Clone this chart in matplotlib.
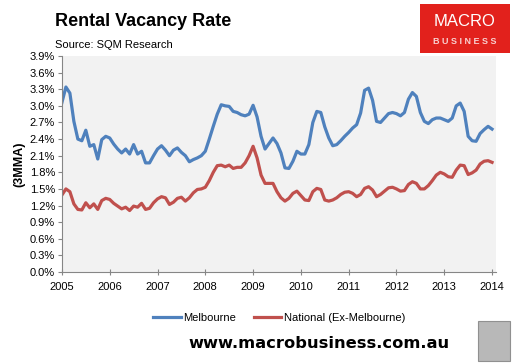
import numpy as np
import matplotlib
matplotlib.use('Agg')
from matplotlib import pyplot as plt
from matplotlib.ticker import FuncFormatter, MultipleLocator
from matplotlib.patches import Rectangle

plt.rcParams.update({'font.family': ['Liberation Sans', 'DejaVu Sans'],
                     'font.size': 8})

# monthly 3MMA vacancy rates, Jan 2005 - Jan 2014
melbourne = [3.06, 3.34, 3.23, 2.72, 2.40, 2.37, 2.56, 2.27, 2.30, 2.04, 2.39, 2.45,
             2.42, 2.31, 2.22, 2.15, 2.22, 2.13, 2.30, 2.13, 2.18, 1.97, 1.97, 2.10,
             2.22, 2.28, 2.20, 2.10, 2.20, 2.24, 2.16, 2.10, 1.99, 2.03, 2.06, 2.10,
             2.18, 2.40, 2.63, 2.85, 3.02, 3.00, 2.99, 2.90, 2.88, 2.84, 2.82, 2.85,
             3.01, 2.80, 2.45, 2.22, 2.32, 2.42, 2.32, 2.15, 1.88, 1.87, 2.00, 2.18,
             2.13, 2.13, 2.30, 2.70, 2.90, 2.88, 2.62, 2.42, 2.28, 2.30, 2.37, 2.45,
             2.52, 2.60, 2.66, 2.87, 3.28, 3.32, 3.10, 2.72, 2.70, 2.78, 2.86, 2.88,
             2.86, 2.82, 2.88, 3.12, 3.24, 3.17, 2.88, 2.72, 2.68, 2.75, 2.78, 2.78,
             2.75, 2.72, 2.78, 3.00, 3.05, 2.90, 2.45, 2.37, 2.36, 2.50, 2.57, 2.63,
             2.58]
national = [1.39, 1.50, 1.45, 1.23, 1.13, 1.12, 1.25, 1.16, 1.23, 1.13, 1.29, 1.33,
            1.31, 1.24, 1.19, 1.14, 1.17, 1.11, 1.19, 1.17, 1.24, 1.13, 1.15, 1.25,
            1.32, 1.36, 1.34, 1.22, 1.26, 1.33, 1.35, 1.28, 1.34, 1.43, 1.49, 1.50,
            1.53, 1.65, 1.80, 1.92, 1.93, 1.90, 1.93, 1.87, 1.89, 1.89, 1.97, 2.10,
            2.27, 2.06, 1.75, 1.60, 1.60, 1.60, 1.45, 1.34, 1.28, 1.33, 1.42, 1.46,
            1.38, 1.30, 1.29, 1.45, 1.51, 1.49, 1.30, 1.28, 1.30, 1.34, 1.40, 1.44,
            1.45, 1.42, 1.36, 1.40, 1.51, 1.54, 1.48, 1.36, 1.40, 1.46, 1.52, 1.53,
            1.50, 1.46, 1.47, 1.58, 1.63, 1.60, 1.50, 1.50, 1.56, 1.65, 1.75, 1.80,
            1.77, 1.72, 1.71, 1.84, 1.93, 1.92, 1.76, 1.79, 1.84, 1.95, 2.00, 2.01,
            1.98]
years = list(range(2005, 2015))
dates = 2005 + np.arange(len(melbourne)) / 12.0

fig = plt.figure(figsize=(5.16, 3.63), dpi=100)
ax = fig.add_axes([0.120, 0.2507, 0.841, 0.595])
ax.set_facecolor('#F2F2F2')

ax.plot(dates, melbourne, color='#4F81BD', linewidth=2.3, label='Melbourne')
ax.plot(dates, national, color='#C0504D', linewidth=2.3, label='National (Ex-Melbourne)')

ax.set_xlim(2005, 2014.08)
ax.set_ylim(0, 3.9)
ax.yaxis.set_major_locator(MultipleLocator(0.3))
ax.yaxis.set_major_formatter(FuncFormatter(lambda v, p: f'{v:.1f}%'))
ax.set_xticks(years)
ax.set_xticklabels([str(y) for y in years])
for s in ['top', 'right']:
    ax.spines[s].set_visible(False)
for s in ['left', 'bottom']:
    ax.spines[s].set_color('#868686')
    ax.spines[s].set_linewidth(0.8)
ax.tick_params(axis='y', direction='out', length=3, color='#868686', labelsize=8, pad=2)
ax.tick_params(axis='x', direction='inout', length=5, color='#868686', labelsize=8, pad=5)
ax.set_ylabel('(3MMA)', fontweight='bold', fontsize=9, labelpad=3)

ax.legend(loc='upper center', bbox_to_anchor=(0.5, -0.145), ncol=2, frameon=False,
          fontsize=8, handlelength=2.5, handletextpad=0.2, columnspacing=1.6)

fig.text(0.106, 0.94, 'Rental Vacancy Rate', fontsize=13, fontweight='bold', va='center')
fig.text(0.106, 0.876, 'Source: SQM Research', fontsize=8, va='center')

# logo
fig.patches.append(Rectangle((0.814, 0.854), 0.174, 0.135, transform=fig.transFigure,
                             facecolor='#E2211C', edgecolor='none'))
fig.text(0.901, 0.942, 'MACRO', color='white', fontsize=12, ha='center', va='center')
fig.text(0.901, 0.885, 'B U S I N E S S', color='#F8D0D0', fontsize=6.5, ha='center',
         va='center', fontweight='bold')

fig.text(0.618, 0.055, 'www.macrobusiness.com.au', fontsize=11.7, fontweight='bold',
         ha='center', va='center', family=['DejaVu Sans'])
fig.patches.append(Rectangle((0.926, 0.005), 0.062, 0.112, transform=fig.transFigure,
                             facecolor='#B8B8B8', edgecolor='#909090', linewidth=0.8))

fig.savefig('out.png', dpi=100)
